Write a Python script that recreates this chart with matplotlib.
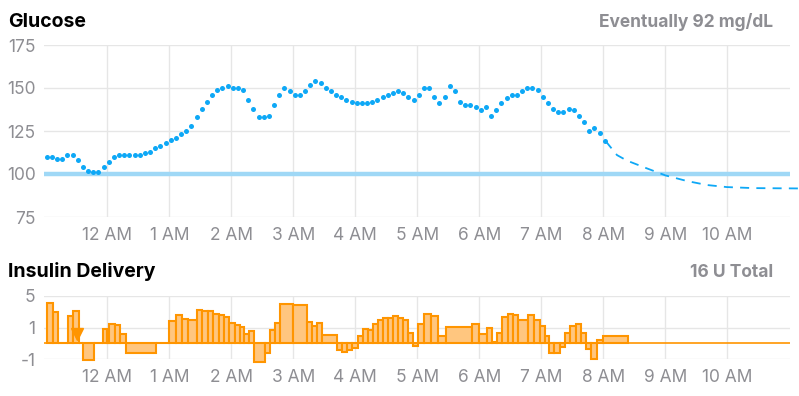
import numpy as np
import matplotlib
matplotlib.use("Agg")
import matplotlib.pyplot as plt

plt.rcParams['font.family'] = ['Inter', 'DejaVu Sans']

# glucose readings, every 5 minutes starting ~11:01 PM (hours relative to midnight)
glucose_start_hour = -0.977
glucose_values = [
    110, 110, 109, 109, 111, 111, 108, 104, 102, 101,
    101, 104, 107, 110, 111, 111, 111, 111, 111, 112,
    113, 115, 116, 118, 120, 121, 123, 125, 128, 133,
    138, 142, 146, 149, 150, 151, 150, 150, 149, 143,
    138, 133, 133, 134,
    140, 146, 150, 148, 146, 146, 148, 152, 154, 153,
    150, 148, 146, 145, 143, 142, 141, 141, 141, 142,
    143, 145, 146, 147, 148, 147, 145, 143, 146, 150,
    150, 145, 141, 145, 151, 148, 142, 140, 140, 139,
    137, 139, 134, 137, 141, 144, 146, 146, 148, 150,
    150, 149, 145, 141, 138, 136, 136, 138, 137, 134,
    130, 125, 127, 124, 119,
]

# predicted glucose (dashed)
pred_hours = [8.04, 8.22, 8.38, 8.70, 9.00, 9.35, 9.67, 9.99, 10.42, 11.16]
pred_values = [119, 111, 107.8, 103.3, 99.2, 95.9, 93.6, 92.4, 91.8, 91.6]

target_glucose = 100

# temp basal segments: edges (hours) and rate (U/hr) per segment
basal_edges = [
    -0.977, -0.881, -0.790, -0.639, -0.558, -0.456, -0.387, -0.210, -0.065, -0.010,
    0.027, 0.124, 0.205, 0.297, 0.785, 1.0, 1.103, 1.2, 1.297, 1.442,
    1.532, 1.619, 1.71, 1.802, 1.887, 1.968, 2.06, 2.14, 2.21, 2.29,
    2.371, 2.544, 2.624, 2.705, 2.785, 2.99, 3.226, 3.306, 3.387, 3.468,
    3.7, 3.781, 3.861, 3.952, 4.039, 4.119, 4.2, 4.281, 4.361, 4.442,
    4.523, 4.603, 4.684, 4.765, 4.845, 4.926, 5.006, 5.108, 5.216, 5.339,
    5.458, 5.877, 6.0, 6.129, 6.21, 6.29, 6.371, 6.458, 6.539, 6.629,
    6.79, 6.882, 6.979, 7.06, 7.129, 7.21, 7.302, 7.382, 7.463, 7.555,
    7.64, 7.721, 7.802, 7.894, 8.0, 8.394,
]
basal_rates = [
    4.1, 2.92, 0, 2.5, 3.06, 0, -1.08, 0, 0.91, 0.72,
    1.5, 1.36, 0.61, -0.59, 0, 1.78, 2.58, 2.12, 1.92, 3.18,
    3.14, 3.06, 2.76, 2.58, 2.38, 1.58, 1.36, 1.06, 0.61, 0.76,
    -1.22, -0.65, 0.82, 1.62, 3.94, 3.9, 1.66, 1.2, 1.62, 0.55,
    -0.44, -0.53, -0.4, -0.27, 0.49, 0.91, 0.87, 1.5, 2.0, 2.16,
    2.2, 2.42, 2.26, 2.0, 0.65, -0.15, 1.5, 2.76, 2.42, 0.46,
    1.02, 1.4, 0.61, 1.0, 0.05, 0.68, 2.34, 2.68, 2.54, 2.0,
    2.54, 2.0, 1.2, 0.49, -0.61, -0.59, -0.25, 0.68, 1.24, 1.44,
    0.65, -0.36, -0.97, 0.19, 0.49,
]

bolus_hours = [-0.49]
bolus_marker_y = [0.6]

hour_ticks = [0, 1, 2, 3, 4, 5, 6, 7, 8, 9, 10]
hour_labels = ["12 AM", "1 AM", "2 AM", "3 AM", "4 AM", "5 AM",
               "6 AM", "7 AM", "8 AM", "9 AM", "10 AM"]

W, H = 799, 396
GRAY = '#8e8e93'
GRID = '#e6e6e6'
BLUE = '#0ea8f6'
ORANGE = '#ff9500'


def px_box(left, top, right, bottom):
    return [left / W, 1 - bottom / H, (right - left) / W, (bottom - top) / H]


def style_axes(ax):
    for s in ax.spines.values():
        s.set_visible(False)
    ax.set_xlim(-1.02, 11.01)
    ax.set_xticks(hour_ticks)
    ax.set_xticklabels(hour_labels)
    ax.tick_params(length=0, labelcolor=GRAY, labelsize=12.5)
    ax.tick_params(axis='x', pad=7)
    ax.tick_params(axis='y', pad=6)
    ax.grid(True, color=GRID, linewidth=1)
    ax.set_axisbelow(True)


def fwd(v):
    v = np.asarray(v, dtype=float)
    return np.where(v <= 1, v, 1 + (v - 1) / 2)


def inv(u):
    u = np.asarray(u, dtype=float)
    return np.where(u <= 1, u, 1 + (u - 1) * 2)


fig = plt.figure(figsize=(W / 100, H / 100), dpi=100)

# glucose chart
ax1 = fig.add_axes(px_box(44, 45, 790, 217))
style_axes(ax1)
ax1.set_ylim(75, 175)
ax1.set_yticks([75, 100, 125, 150, 175])
ax1.axhline(target_glucose, color='#9fd8f6', linewidth=3.2, zorder=1)
g_hours = glucose_start_hour + np.arange(len(glucose_values)) * 5 / 60
ax1.scatter(g_hours, glucose_values, s=13, color=BLUE, linewidths=0, zorder=3)
ax1.plot(pred_hours, pred_values, color=BLUE, linewidth=1.3,
         dashes=(5, 4), clip_on=False, zorder=2)

# insulin chart
ax2 = fig.add_axes(px_box(44, 296, 790, 359))
ax2.set_yscale('function', functions=(fwd, inv))
style_axes(ax2)
ax2.set_ylim(-1, 5)
ax2.set_yticks([-1, 1, 5])
ax2.set_yticklabels(["-1", "1", "5"])
ax2.axhline(0, color=ORANGE, linewidth=1.2, zorder=2)
widths = np.diff(basal_edges)
bars = ax2.bar(basal_edges[:-1], basal_rates, width=widths, align='edge',
               color='#ffc67f', edgecolor=ORANGE, linewidth=1.5, zorder=3)
for b in bars:
    b.set_clip_on(False)
ax2.plot(bolus_hours, bolus_marker_y, marker='v', markersize=9,
         color=ORANGE, linestyle='none', zorder=4)

# headers
fig.text(8 / W, 1 - 27 / H, "Glucose", fontsize=14, fontweight='bold', va='baseline')
fig.text(773 / W, 1 - 27 / H, "Eventually 92 mg/dL", fontsize=12.5,
         fontweight='bold', color=GRAY, ha='right', va='baseline')
fig.text(8 / W, 1 - 277 / H, "Insulin Delivery", fontsize=14, fontweight='bold', va='baseline')
fig.text(773 / W, 1 - 277 / H, "16 U Total", fontsize=12.5,
         fontweight='bold', color=GRAY, ha='right', va='baseline')

fig.savefig("out.png", dpi=100)
